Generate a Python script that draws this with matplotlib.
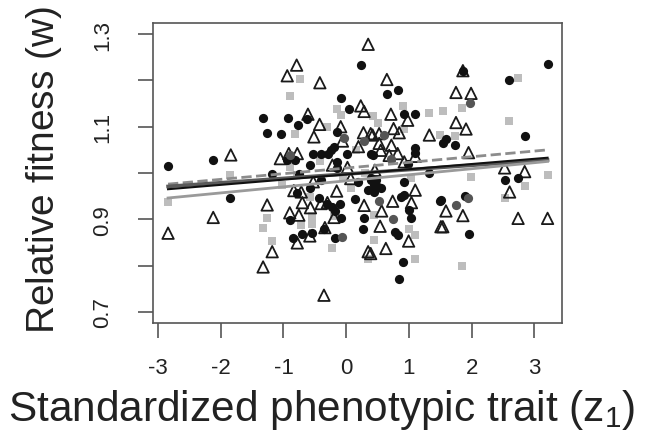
import numpy as np
import matplotlib
matplotlib.use("Agg")
import matplotlib.pyplot as plt

plt.rcParams['font.family'] = ['Liberation Sans', 'DejaVu Sans']
plt.rcParams['mathtext.fontset'] = 'custom'
plt.rcParams['mathtext.rm'] = 'Liberation Sans'
plt.rcParams['mathtext.it'] = 'Liberation Sans:italic'

# black filled circles
circ_x = [-2.84, -2.13, -1.85, -1.325, -1.26, -1.18, 3.21, 2.595, 1.86, 2.845, 1.59, 1.54,
          1.74, 2.525, 2.74, 1.90, 1.51, 1.965, 0.82, 0.648, 0.925, 1.10, 1.10, 1.10, 0.39,
          0.98, 1.325, 0.925, 0.39, 0.45, 0.55, 0.88, 1.005, 1.50, 1.04, 0.78, 0.82, 0.90,
          0.845, 0.243, -0.077, 0.045, -0.92, -0.62, -1.037, -0.77, -0.14, -0.195, -0.25,
          -0.525, -0.40, -0.29, 0.02, 0.42, -0.94, -0.81, -0.58, -0.14, -0.152, -0.408, 0.18,
          0.35, 0.445, 0.50, -0.58, -0.435, 0.136, -0.22, -0.10, -0.184, -0.077, 0.285, -0.89,
          -0.70, -0.54, -0.355, -0.845, -0.184, 0.275, -0.755, -0.78, -0.30, 0.915, 0.40, 0.48]
circ_y = [1.016, 1.028, 0.946, 1.118, 1.087, 0.997, 1.235, 1.200, 1.221, 1.080, 1.073, 1.064,
          1.061, 0.984, 0.990, 0.951, 0.941, 0.869, 1.180, 1.170, 1.127, 1.127, 1.055, 1.044, 1.040,
          1.019, 1.001, 0.981, 0.985, 0.975, 0.968, 0.949, 0.920, 0.939, 0.902, 0.873, 0.866, 0.808,
          0.772, 1.233, 1.163, 1.138, 1.118, 1.116, 1.084, 1.103, 1.089, 1.057, 1.049,
          1.042, 1.042, 1.040, 1.040, 1.038, 1.028, 1.028, 1.017, 1.024, 1.010, 0.984, 0.981,
          0.963, 0.959, 0.970, 0.968, 0.945, 0.943, 0.927, 0.934, 0.918, 0.902, 0.903, 0.898,
          0.869, 0.871, 0.880, 0.859, 0.859, 0.879, 0.997, 0.956, 0.934, 0.952, 0.990, 0.985]

# dark grey circles
dark_x = [1.98, 0.605, -0.035, 0.28, 0.71, 0.525, 0.74, 1.75, 1.94, -0.072, -0.90]
dark_y = [1.152, 1.082, 1.075, 1.070, 1.031, 0.939, 0.900, 0.931, 0.946, 0.862, 1.038]

# light grey squares
sq_x = [-2.84, -1.85, -1.26, -1.325, -1.18, 2.74, 1.84, 1.54, 2.595, 1.74, 1.99, 3.21, 2.845,
        2.525, 1.84, 0.90, 1.325, 0.42, 0.50, 0.925, 1.03, 0.445, 0.995, 1.10, 0.445, 1.10,
        -0.74, -0.89, -0.152, -0.088, -0.30, -0.82, -0.90, -0.41, -0.78, -1.02, -0.57, 0.072,
        -0.54, -0.195, -0.717, -0.54, -0.22, 0.35, 1.50, 0.15, 0.30, -0.05]
sq_y = [0.938, 0.996, 0.902, 0.881, 0.854, 1.206, 1.141, 1.134, 1.113, 1.080, 0.992, 0.995, 0.972,
        0.947, 0.800, 1.145, 1.130, 1.123, 1.107, 1.096, 0.990, 0.909, 0.880, 0.867, 0.855, 0.814,
        1.204, 1.167, 1.138, 1.125, 1.100, 1.084, 1.012, 1.025, 0.995, 0.974, 0.949, 0.967,
        0.908, 0.907, 0.887, 0.889, 0.838, 0.814, 1.082, 1.050, 1.000, 0.990]

# open triangles
tri_x = [-2.84, -2.12, -1.84, -1.26, -1.18, -1.325, 1.86, 1.75, 1.99, 1.75, 1.91, 1.95, 2.525,
         2.845, 2.605, 1.59, 1.86, 2.74, 3.21, 1.54, 0.35, 0.648, 0.712, 0.98, 0.755, 0.845,
         1.325, 0.39, 0.525, 0.72, 0.82, 1.10, 0.55, 0.685, 0.925, 1.10, 0.74, 1.04, 0.565,
         0.54, 1.51, 0.995, 0.632, 0.39, -0.79, -0.94, -0.42, 0.232, 0.285, -0.61, -0.424,
         -0.515, -0.088, 0.275, 0.42, 0.525, 0.195, -0.06, -1.05, -0.915, -0.78, -0.22, 0.02,
         0.456, -0.525, 0.072, -0.835, -0.717, -0.152, -0.70, -0.40, -0.30, -0.57, 0.285,
         -0.195, -0.90, -0.755, -0.78, -0.58, -0.34, 0.35, -0.355]
tri_y = [0.870, 0.904, 1.039, 0.931, 0.830, 0.797, 1.221, 1.174, 1.172, 1.109, 1.095, 1.044, 1.011,
         1.003, 0.959, 0.918, 0.908, 0.902, 0.902, 0.884, 1.278, 1.202, 1.127, 1.114, 1.096, 1.087,
         1.082, 1.085, 1.064, 1.060, 1.042, 1.036, 1.049, 1.038, 1.024, 0.963, 0.939, 0.936, 0.918,
         0.885, 0.884, 0.853, 0.837, 0.826, 1.233, 1.210, 1.195, 1.145, 1.133, 1.127, 1.105,
         1.078, 1.100, 1.087, 1.082, 1.085, 1.057, 1.069, 1.031, 1.042, 1.042, 1.017, 1.012,
         1.006, 0.981, 0.988, 0.962, 0.959, 0.961, 0.936, 0.934, 0.936, 0.925, 0.930,
         0.904, 0.914, 0.909, 0.849, 0.864, 0.882, 0.830, 0.736]

# fitted lines: intercept, slope
line_int = [1.0107, 0.9978, 0.9969, 0.9831]
line_slope = [0.01223, 0.00942, 0.01124, 0.01306]
line_col = ['#8c8c8c', '#5a5a5a', '#111111', '#9a9a9a']
line_ls = ['--', '-', '-', '-']
line_lw = [2.0, 2.6, 1.5, 2.0]

xtick_vals = [-3, -2, -1, 0, 1, 2, 3]
ytick_vals = [0.7, 0.8, 0.9, 1.0, 1.1, 1.2, 1.3]
ytick_labels = ['0.7', '', '0.9', '', '1.1', '', '1.3']

fig = plt.figure(figsize=(6.48, 4.35), dpi=100)
ax = fig.add_axes([153 / 648, 1 - 324 / 435, 409 / 648, 300 / 435])

ax.scatter(sq_x, sq_y, marker='s', s=38, color='#bdbdbd', linewidths=0, zorder=2)
ax.scatter(tri_x, tri_y, marker='^', s=68, facecolors='none', edgecolors='#1a1a1a',
           linewidths=1.3, zorder=3)
ax.scatter(circ_x, circ_y, marker='o', s=44, color='#111111', linewidths=0, zorder=4)
ax.scatter(dark_x, dark_y, marker='o', s=44, color='#555555', linewidths=0, zorder=4)

all_x = np.array(circ_x + sq_x + tri_x)
xs = np.array([all_x.min(), all_x.max()])
for b0, b1, c, ls, lw in zip(line_int, line_slope, line_col, line_ls, line_lw):
    ax.plot(xs, b0 + b1 * xs, color=c, ls=ls, lw=lw, zorder=5)

ax.set_xlim(-3.08, 3.44)
ax.set_ylim(0.676, 1.324)
ax.set_xticks(xtick_vals)
ax.set_xticklabels([str(v) for v in xtick_vals])
ax.set_yticks(ytick_vals)
ax.set_yticklabels(ytick_labels, rotation=90, va='center')

for sp in ax.spines.values():
    sp.set_color('#555555')
    sp.set_linewidth(1.2)
ax.tick_params(axis='both', direction='out', length=10.5, width=1.2, color='#555555',
               labelsize=16, labelcolor='#222222')
ax.tick_params(axis='x', pad=14)
ax.tick_params(axis='y', pad=18)

fig.text(0.497, 0.058, r'Standardized phenotypic trait $(\mathrm{z}_1)$', fontsize=30.5,
         ha='center', va='center', color='#222222')
fig.text(0.068, 0.609, r'Relative fitness $(\mathrm{w})$', fontsize=28, rotation=90,
         ha='center', va='center', color='#222222')

fig.savefig('out.png', dpi=100)
